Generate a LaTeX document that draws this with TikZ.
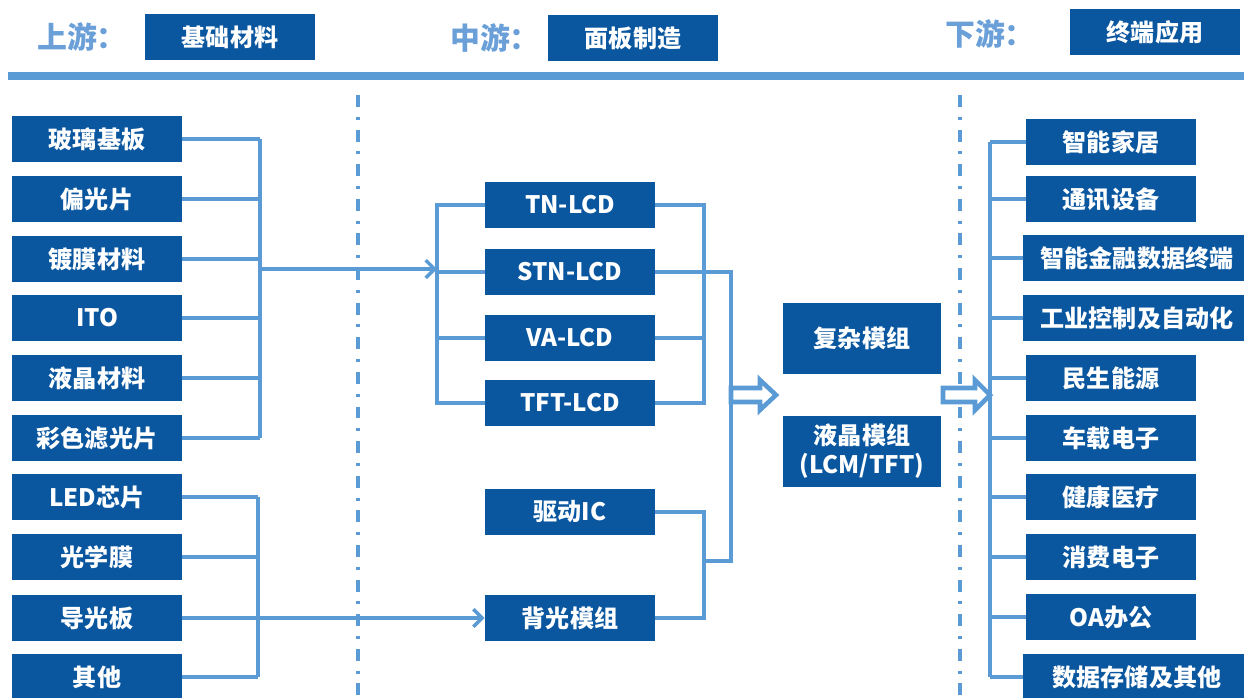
\documentclass[tikz,border=0pt]{standalone}
\usepackage{fontspec}
\setmainfont{Noto Sans CJK SC}
\usetikzlibrary{arrows.meta}

\definecolor{boxblue}{HTML}{0A57A0}
\definecolor{lineblue}{HTML}{5B9BD5}
\definecolor{headblue}{HTML}{6A9FD8}

\tikzset{
  box/.style={fill=boxblue, text=white, inner sep=0pt, minimum width=3.4cm,
    minimum height=0.92cm, font=\bfseries\fontsize{13.7}{16.4}\selectfont},
  widebox/.style={box, minimum width=4.56cm},
  modbox/.style={box, minimum width=3.16cm, minimum height=1.42cm, align=center},
  stage/.style={text=headblue, font=\bfseries\fontsize{17}{20}\selectfont},
  link/.style={draw=lineblue, line width=2pt},
  arrowlink/.style={link, -{Straight Barb[length=5pt, width=10pt]}},
  hollow/.style={draw=lineblue, fill=white, line width=2.6pt, line join=miter},
  divider/.style={draw=lineblue, line width=2.2pt,
    dash pattern=on 6.8pt off 5.6pt on 1.7pt off 5.6pt},
}

\begin{document}
\begin{tikzpicture}[x=0.02cm, y=-0.02cm]
    \useasboundingbox (0,0) rectangle (1244,697);

    % Stage titles
    \node[stage] (up) at (82,37) {上游：};
    \node[box] (upbox) at (230,37) {基础材料};
    \node[stage] (mid) at (495,38) {中游：};
    \node[box] (midbox) at (633,38) {面板制造};
    \node[stage] (down) at (990,34) {下游：};
    \node[box] (downbox) at (1155,32) {终端应用};
    \draw[lineblue, line width=0.16cm] (8,76) -- (1244,76);

    % Dividers
    \draw[divider] (358,95) -- (358,697);
    \draw[divider] (960,95) -- (960,697);

    % Upstream materials
    \foreach \i/\y/\t in {1/139/玻璃基板, 2/199/偏光片, 3/259/镀膜材料, 4/318/ITO,
        5/378/液晶材料, 6/438/彩色滤光片, 7/497/LED芯片, 8/557/光学膜,
        9/618/导光板, 10/677/其他} {
        \node[box] (m\i) at (97,\y) {\t};
    }

    % Panel types
    \foreach \n/\y/\t in {tn/205/TN-LCD, stn/272/STN-LCD, va/338/VA-LCD,
        tft/403/TFT-LCD, ic/512/驱动IC, bl/618/背光模组} {
        \node[box] (\n) at (570,\y) {\t};
    }

    % Modules
    \node[modbox] (cm) at (862,338) {复杂模组};
    \node[modbox] (lcm) at (862,451) {液晶模组\\(LCM/TFT)};

    % Applications
    \foreach \i/\x/\y/\s/\t in {1/1111/142/box/智能家居, 2/1111/199/box/通讯设备,
        3/1137/258/widebox/智能金融数据终端, 4/1137/318/widebox/工业控制及自动化,
        5/1111/378/box/民生能源, 6/1111/438/box/车载电子, 7/1111/497/box/健康医疗,
        8/1111/557/box/消费电子, 9/1111/617/box/OA办公,
        10/1137/677/widebox/数据存储及其他} {
        \node[\s] (r\i) at (\x,\y) {\t};
    }

    % Junction points
    \coordinate (bA) at (260,269);
    \coordinate (jA) at (437,269);
    \coordinate (bB) at (258,618);
    \coordinate (bC) at (704,338);
    \coordinate (bD) at (731,561);
    \coordinate (bE) at (704,561);
    \coordinate (hA) at (731,395);
    \coordinate (hB) at (943,395);
    \coordinate (bR) at (990,395);

    % Materials to panels
    \foreach \n in {m1,m2,m3,m4,m5,m6}
        \draw[link] (\n.east) -- (\n.east -| bA);
    \draw[link] (m1.east -| bA) -- (m6.east -| bA);
    \draw[arrowlink] (bA) -- (jA);
    \draw[link] (tn.west) -| (jA) |- (tft.west);
    \draw[link] (stn.west) -- (stn.west -| jA);
    \draw[link] (va.west) -- (va.west -| jA);

    \foreach \n in {m7,m8,m9,m10}
        \draw[link] (\n.east) -- (\n.east -| bB);
    \draw[link] (m7.east -| bB) -- (m10.east -| bB);
    \draw[arrowlink] (bB) -- (bl.west);

    % Panels to modules
    \draw[link] (tn.east) -| (bC) |- (tft.east);
    \draw[link] (va.east) -- (bC);
    \draw[link] (ic.east) -| (bE) |- (bl.east);
    \draw[link] (stn.east) -| (bD) -- (bE);

    \fill[lineblue] (hA) ++(0,-7) rectangle ++(7,14);
    \draw[hollow] (hA) ++(0,-7) -- ++(29,0) -- ++(0,-8) -- ++(16,15)
        -- ++(-16,15) -- ++(0,-8) -- ++(-29,0) -- cycle;

    % Modules to applications
    \fill[lineblue] (hB) ++(0,-7) rectangle ++(7,14);
    \draw[hollow] (hB) ++(0,-7) -- ++(32,0) -- ++(0,-8) -- ++(15,15)
        -- ++(-15,15) -- ++(0,-8) -- ++(-32,0) -- cycle;
    \foreach \i in {1,...,10}
        \draw[link] (r\i.west -| bR) -- (r\i.west);
    \draw[link] (r1.west -| bR) -- (r10.west -| bR);
\end{tikzpicture}
\end{document}
